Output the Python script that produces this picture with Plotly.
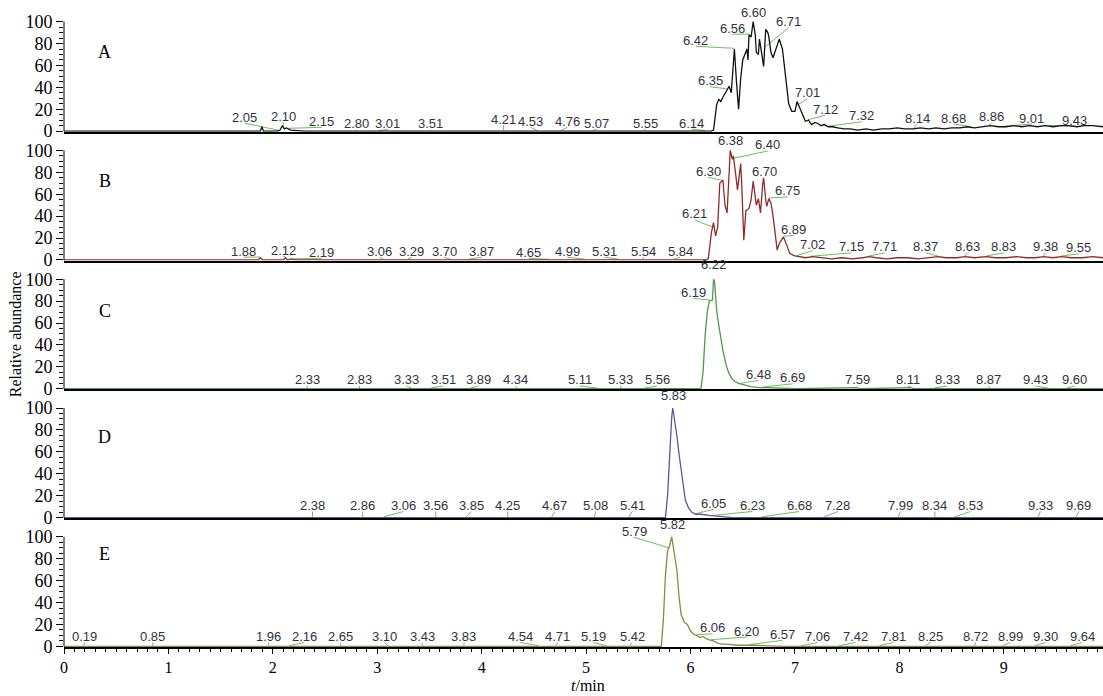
import numpy as np
import plotly.graph_objects as go
from plotly.subplots import make_subplots

# ---------------- data (time in min, relative abundance in %) ----------------
panel_names = ["A", "B", "C", "D", "E"]

trace_A = [(0.00, 0), (1.88, 0), (1.895, 4), (1.91, 0), (2.04, 0), (2.07, 1), (2.09, 5), (2.11, 2),
           (2.13, 3), (2.17, 1), (2.30, 0), (6.20, 0), (6.22, 1), (6.25, 24), (6.27, 29), (6.29, 27),
           (6.31, 31), (6.33, 34), (6.35, 38), (6.37, 41), (6.39, 35), (6.42, 75), (6.44, 45), (6.46, 20),
           (6.48, 48), (6.50, 65), (6.52, 70), (6.54, 75), (6.55, 65), (6.56, 88), (6.58, 86), (6.60, 100),
           (6.62, 88), (6.63, 72), (6.65, 70), (6.66, 84), (6.68, 72), (6.70, 59), (6.72, 93), (6.74, 90),
           (6.75, 86), (6.77, 72), (6.79, 67), (6.82, 75), (6.85, 84), (6.88, 75), (6.91, 47), (6.94, 25),
           (6.97, 18), (7.00, 18), (7.02, 27), (7.05, 20), (7.08, 13), (7.10, 9), (7.13, 10), (7.16, 6),
           (7.19, 8), (7.22, 7), (7.25, 5), (7.28, 6), (7.32, 4), (7.36, 4), (7.41, 3), (7.47, 2),
           (7.53, 2), (7.60, 1), (7.68, 2), (7.75, 1), (7.83, 2), (7.90, 2), (7.98, 3), (8.05, 2),
           (8.13, 2), (8.20, 3), (8.28, 2), (8.35, 3), (8.43, 2), (8.50, 3), (8.58, 3), (8.65, 4),
           (8.72, 3), (8.80, 4), (8.87, 5), (8.95, 4), (9.02, 4), (9.10, 5), (9.17, 4), (9.25, 5),
           (9.32, 4), (9.40, 5), (9.47, 4), (9.55, 5), (9.62, 5), (9.70, 4), (9.77, 5), (9.85, 5), (9.95, 4)]

trace_B = [(0.00, 0), (1.86, 0), (1.88, 2), (1.90, 0), (2.10, 0), (2.12, 2), (2.14, 0), (2.18, 1), (2.20, 0),
           (6.15, 0), (6.17, 1), (6.20, 25), (6.22, 34), (6.24, 22), (6.26, 30), (6.28, 70), (6.30, 72),
           (6.31, 73), (6.33, 50), (6.35, 43), (6.37, 80), (6.38, 100), (6.40, 92), (6.41, 95), (6.43, 80),
           (6.45, 64), (6.48, 88), (6.49, 70), (6.51, 18), (6.53, 45), (6.56, 47), (6.58, 55), (6.60, 72),
           (6.62, 58), (6.63, 50), (6.65, 56), (6.67, 43), (6.69, 68), (6.70, 75), (6.72, 55), (6.73, 49),
           (6.75, 56), (6.77, 52), (6.79, 40), (6.81, 25), (6.83, 9), (6.85, 15), (6.87, 18), (6.89, 21),
           (6.92, 14), (6.95, 6), (6.99, 4), (7.04, 3), (7.10, 2), (7.17, 3), (7.25, 2), (7.35, 1),
           (7.45, 2), (7.55, 1), (7.65, 2), (7.71, 3), (7.78, 2), (7.88, 1), (7.98, 2), (8.08, 2),
           (8.18, 1), (8.28, 2), (8.37, 3), (8.45, 2), (8.55, 2), (8.63, 3), (8.72, 2), (8.83, 3),
           (8.92, 2), (9.02, 2), (9.12, 3), (9.22, 2), (9.30, 2), (9.38, 3), (9.47, 2), (9.55, 3),
           (9.65, 2), (9.75, 2), (9.85, 3), (9.95, 2)]

trace_C = [(0.00, 0), (6.10, 0), (6.12, 15), (6.14, 49), (6.16, 70), (6.18, 80), (6.21, 81), (6.22, 100),
           (6.23, 98), (6.25, 72), (6.27, 58), (6.29, 45), (6.31, 35), (6.34, 22), (6.36, 16), (6.39, 10),
           (6.42, 7), (6.46, 5), (6.50, 4), (6.58, 2), (6.66, 1), (6.75, 1), (7.00, 0), (7.59, 1),
           (7.62, 0), (8.11, 1), (8.14, 0), (9.95, 0)]

trace_D = [(0.00, 0), (5.76, 0), (5.78, 20), (5.80, 58), (5.82, 92), (5.83, 100), (5.85, 88), (5.87, 74),
           (5.89, 58), (5.91, 44), (5.93, 28), (5.95, 16), (5.98, 9), (6.01, 5), (6.05, 3), (6.10, 3),
           (6.18, 2), (6.28, 1), (6.40, 0), (9.95, 0)]

trace_E = [(0.00, 0), (5.72, 0), (5.74, 25), (5.76, 65), (5.78, 87), (5.80, 92), (5.82, 100), (5.84, 88),
           (5.87, 69), (5.89, 45), (5.91, 29), (5.94, 22), (5.97, 20), (6.00, 14), (6.03, 11), (6.06, 10),
           (6.09, 8), (6.12, 9), (6.15, 7), (6.18, 6), (6.22, 5), (6.26, 3), (6.30, 2), (6.35, 2),
           (6.45, 1), (6.60, 1), (6.90, 0), (9.95, 0)]

# peak labels: (label text, label x position [min], label y position [%])
labels_A = [("2.05", 1.73, 12.7), ("2.10", 2.10, 13.6), ("2.15", 2.47, 9), ("2.80", 2.80, 7), ("3.01", 3.10, 7),
            ("3.51", 3.51, 7), ("4.21", 4.21, 11), ("4.53", 4.47, 9), ("4.76", 4.82, 9), ("5.07", 5.10, 7.3),
            ("5.55", 5.57, 7.3), ("6.14", 6.01, 7.3), ("6.35", 6.19, 46), ("6.42", 6.05, 83), ("6.56", 6.40, 94),
            ("6.60", 6.60, 108), ("6.71", 6.94, 100), ("7.01", 7.12, 35), ("7.12", 7.29, 20), ("7.32", 7.64, 14),
            ("8.14", 8.17, 12), ("8.68", 8.52, 12), ("8.86", 8.88, 13), ("9.01", 9.27, 12), ("9.43", 9.68, 10)]
labels_B = [("1.88", 1.72, 8), ("2.12", 2.10, 9), ("2.19", 2.47, 7), ("3.06", 3.02, 8), ("3.29", 3.33, 8),
            ("3.70", 3.64, 8), ("3.87", 4.00, 8), ("4.65", 4.45, 7), ("4.99", 4.82, 8), ("5.31", 5.18, 8),
            ("5.54", 5.55, 8), ("5.84", 5.90, 8), ("6.21", 6.04, 42), ("6.30", 6.17, 81), ("6.38", 6.38, 109),
            ("6.40", 6.74, 105), ("6.70", 6.71, 81), ("6.75", 6.93, 63), ("6.89", 6.99, 28), ("7.02", 7.17, 14),
            ("7.15", 7.54, 12), ("7.71", 7.86, 12), ("8.37", 8.25, 12), ("8.63", 8.65, 12), ("8.83", 9.00, 12),
            ("9.38", 9.40, 12), ("9.55", 9.72, 11)]
labels_C = [("2.33", 2.33, 8), ("2.83", 2.83, 8), ("3.33", 3.28, 8), ("3.51", 3.63, 8), ("3.89", 3.97, 8),
            ("4.34", 4.32, 8), ("5.11", 4.94, 8), ("5.33", 5.33, 8), ("5.56", 5.68, 8), ("6.19", 6.03, 88),
            ("6.22", 6.22, 113), ("6.48", 6.65, 13), ("6.69", 6.98, 10), ("7.59", 7.60, 8), ("8.11", 8.08, 8),
            ("8.33", 8.46, 8), ("8.87", 8.85, 8), ("9.43", 9.30, 8), ("9.60", 9.68, 8)]
labels_D = [("2.38", 2.38, 11), ("2.86", 2.86, 11), ("3.06", 3.25, 11), ("3.56", 3.56, 11), ("3.85", 3.90, 11),
            ("4.25", 4.25, 11), ("4.67", 4.70, 11), ("5.08", 5.09, 11), ("5.41", 5.44, 11), ("5.83", 5.84, 111),
            ("6.05", 6.22, 13), ("6.23", 6.59, 11), ("6.68", 7.04, 11), ("7.28", 7.41, 11), ("7.99", 8.01, 11),
            ("8.34", 8.34, 11), ("8.53", 8.68, 11), ("9.33", 9.35, 11), ("9.69", 9.72, 11)]
labels_E = [("0.19", 0.20, 9), ("0.85", 0.85, 9), ("1.96", 1.96, 9), ("2.16", 2.30, 9), ("2.65", 2.65, 9),
            ("3.10", 3.07, 9), ("3.43", 3.43, 9), ("3.83", 3.83, 9), ("4.54", 4.37, 9), ("4.71", 4.73, 9),
            ("5.19", 5.07, 9), ("5.42", 5.44, 9), ("5.79", 5.46, 105), ("5.82", 5.83, 111), ("6.06", 6.21, 17),
            ("6.20", 6.54, 14), ("6.57", 6.88, 11), ("7.06", 7.22, 9), ("7.42", 7.58, 9), ("7.81", 7.94, 9),
            ("8.25", 8.30, 9), ("8.72", 8.73, 9), ("8.99", 9.06, 9), ("9.30", 9.40, 9), ("9.64", 9.75, 9)]

y_ticks = [0, 20, 40, 60, 80, 100]
x_ticks = [0, 1, 2, 3, 4, 5, 6, 7, 8, 9]

traces = [trace_A, trace_B, trace_C, trace_D, trace_E]
labels = [labels_A, labels_B, labels_C, labels_D, labels_E]
colors = ["#111111", "#8e2b2b", "#4f9a4f", "#58589f", "#8a8a42"]
letter_y = [72, 72, 71, 74, 84]

LABEL_FONT = dict(family="Liberation Sans, Arial", size=13, color="#33333d")
SERIF = "Liberation Serif, Times New Roman, serif"

fig = make_subplots(rows=5, cols=1, shared_xaxes=True, vertical_spacing=0)

for i in range(5):
    row = i + 1
    t = np.array([p[0] for p in traces[i]])
    v = np.array([p[1] for p in traces[i]])
    # leader lines
    lx, ly = [], []
    for txt, px, py in labels[i]:
        val = float(txt)
        peak = float(np.interp(val, t, v))
        if abs(px - val) < 0.02 and py > 50:
            continue
        lx += [px, val, None]
        ly += [py - 5.5, peak + 0.6, None]
    fig.add_trace(go.Scatter(x=lx, y=ly, mode="lines", line=dict(color="#6cbf5c", width=1),
                             hoverinfo="skip", showlegend=False), row=row, col=1)
    fig.add_trace(go.Scatter(x=t, y=v, mode="lines", line=dict(color=colors[i], width=1.3),
                             showlegend=False), row=row, col=1)
    yref = "y" if i == 0 else f"y{row}"
    xref = "x" if i == 0 else f"x{row}"
    for txt, px, py in labels[i]:
        fig.add_annotation(x=px, y=py, xref=xref, yref=yref, text=txt, showarrow=False,
                           font=LABEL_FONT, xanchor="center", yanchor="middle")
    fig.add_annotation(x=0.39, y=letter_y[i], xref=xref, yref=yref, text=panel_names[i], showarrow=False,
                       font=dict(family=SERIF, size=18, color="black"))
    # y axis line only from 0 to 100
    fig.add_shape(type="line", xref="paper", yref=yref, x0=0, x1=0, y0=0, y1=100,
                  line=dict(color="black", width=1))
    fig.update_yaxes(row=row, col=1, range=[-0.6, 117], tickvals=y_ticks, ticks="outside", ticklen=7,
                     tickcolor="black", tickwidth=1, showgrid=False, zeroline=False, showline=False,
                     tickfont=dict(family=SERIF, size=18, color="black"),
                     minor=dict(tickvals=list(range(0, 101, 5)), ticks="outside", ticklen=4,
                                tickcolor="black", tickwidth=1))
    fig.update_xaxes(row=row, col=1, range=[0, 9.95], showgrid=False, zeroline=False, showline=True,
                     linecolor="black", linewidth=1.8)
    if row < 5:
        fig.update_xaxes(row=row, col=1, ticks="", showticklabels=False)
    else:
        fig.update_xaxes(row=row, col=1, tickvals=x_ticks, ticks="outside", ticklen=5, tickwidth=1,
                         tickcolor="black", tickfont=dict(family=SERIF, size=16, color="black"),
                         minor=dict(dtick=0.1, tick0=0, ticks="outside", ticklen=3, tickcolor="black",
                                    tickwidth=1))

fig.add_annotation(x=-0.047, y=0.486, xref="paper", yref="paper", text="Relative abundance",
                   textangle=-90, showarrow=False, xanchor="center", yanchor="middle",
                   font=dict(family=SERIF, size=16, color="black"))
fig.add_annotation(x=0.504, y=-49 / 644, xref="paper", yref="paper", text="<i>t</i>/min",
                   showarrow=False, xanchor="center", yanchor="bottom",
                   font=dict(family=SERIF, size=16, color="black"))

fig.update_layout(width=1103, height=696, margin=dict(l=64, r=0, t=3, b=49),
                  plot_bgcolor="white", paper_bgcolor="white")

fig.write_html("out.html")
